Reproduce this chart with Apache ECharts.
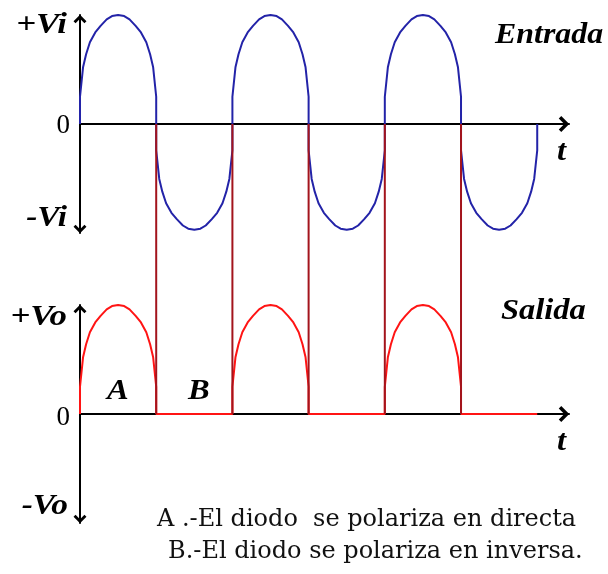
<!DOCTYPE html>
<html>
<head>
<meta charset="utf-8">
<script src="https://cdn.jsdelivr.net/npm/echarts@6/dist/echarts.min.js"></script>
<style>
  html, body { margin: 0; padding: 0; background: #ffffff; }
  #chart { width: 608px; height: 574px; }
</style>
</head>
<body>
<div id="chart"></div>
<script>
// Half-wave rectifier: input voltage (Entrada) and rectified output (Salida).
// Time is measured in half-periods of the input signal.
const halfCycleStarts = [0, 1, 2, 3, 4, 5];
const switchTimes = [1, 2, 3, 4, 5];          // diode switches on/off here

// Shape of one half-cycle: position within the half-period and fraction of the peak
const profileT = [0, 0, 0.04, 0.08, 0.13, 0.2, 0.27, 0.35, 0.42, 0.5, 0.58, 0.65, 0.73, 0.8, 0.87, 0.92, 0.96, 1, 1];
const profileV = [0, 0.25, 0.52, 0.64, 0.75, 0.84, 0.9, 0.96, 0.99, 1, 0.99, 0.96, 0.9, 0.84, 0.75, 0.64, 0.52, 0.25, 0];

const inputPeak = 1;
const inputTrough = -0.97;
const outputPeak = 1;

const inputTickLabels = ['+Vi', '0', '-Vi'];
const outputTickLabels = ['+Vo', '0', '-Vo'];
const legendLines = ['A .-El diodo  se polariza en directa', 'B.-El diodo se polariza en inversa.'];
const regionLabels = ['A', 'B'];

// Build the two waveforms from the half-cycle profile
const inputWave = [];
const outputWave = [];
halfCycleStarts.forEach(function (k) {
  const positive = k % 2 === 0;
  const amp = positive ? inputPeak : inputTrough;
  profileT.forEach(function (t, i) {
    inputWave.push([k + t, profileV[i] * amp]);
  });
  if (positive) {
    profileT.forEach(function (t, i) {
      outputWave.push([k + t, profileV[i] * outputPeak]);
    });
  } else {
    outputWave.push([k, 0], [k + 1, 0]);
  }
});

const xMax = 6.417;
// open arrow head drawn as a thick chevron
const chevron = 'path://M8,0 L16,8 L13.5,10.5 L8,5 L2.5,10.5 L0,8 Z';
const axisLine = {
  show: true,
  onZero: true,
  symbol: ['none', chevron],
  symbolSize: [16, 10.5],
  symbolOffset: [0, -5],
  lineStyle: { color: '#000000', width: 2 }
};
const yAxisLine = Object.assign({}, axisLine, {
  symbol: [chevron, chevron],
  symbolSize: [13, 8.5],
  symbolOffset: [4, -4]
});

const serif = 'Liberation Serif';
function label(text, x, y, align, opts, sx) {
  return {
    type: 'text', x: x, y: y, z: 10, scaleX: sx == null ? 1.12 : sx,
    style: Object.assign({
      text: text, fill: '#000', align: align, verticalAlign: 'middle',
      font: 'italic bold 29px "' + serif + '"'
    }, opts || {})
  };
}
const zeroFont = { font: '27px "' + serif + '"' };
const captionFont = { font: '24px "DejaVu Serif"', fill: '#111' };

const chart = echarts.init(document.getElementById('chart'), null, { renderer: 'canvas' });
chart.setOption({
  animation: false,
  backgroundColor: '#ffffff',
  grid: [
    { left: 80, top: 15, width: 489, height: 218 },
    { left: 80, top: 305, width: 489, height: 218 },
    { left: 80, top: 124, width: 489, height: 290 }
  ],
  xAxis: [
    { gridIndex: 0, type: 'value', min: 0, max: xMax, axisLine: axisLine, axisTick: { show: false }, axisLabel: { show: false }, splitLine: { show: false } },
    { gridIndex: 1, type: 'value', min: 0, max: xMax, axisLine: axisLine, axisTick: { show: false }, axisLabel: { show: false }, splitLine: { show: false } },
    { gridIndex: 2, type: 'value', min: 0, max: xMax, show: false }
  ],
  yAxis: [
    { gridIndex: 0, type: 'value', min: -1, max: 1, axisLine: yAxisLine, axisTick: { show: false }, axisLabel: { show: false }, splitLine: { show: false } },
    { gridIndex: 1, type: 'value', min: -1, max: 1, axisLine: yAxisLine, axisTick: { show: false }, axisLabel: { show: false }, splitLine: { show: false } },
    { gridIndex: 2, type: 'value', min: 0, max: 1, show: false }
  ],
  series: [
    {
      name: 'Entrada', type: 'line', xAxisIndex: 0, yAxisIndex: 0,
      data: inputWave, symbol: 'none', clip: false, z: 3,
      lineStyle: { color: '#2323a8', width: 2 }
    },
    {
      name: 'Salida', type: 'line', xAxisIndex: 1, yAxisIndex: 1,
      data: outputWave, symbol: 'none', clip: false, z: 3,
      lineStyle: { color: '#ff1414', width: 2 }
    },
    {
      name: 'Conmutación', type: 'custom', xAxisIndex: 2, yAxisIndex: 2, z: 4,
      data: switchTimes.map(function (t) { return [t, 0]; }),
      encode: { x: 0, y: 1 },
      renderItem: function (params, api) {
        const a = api.coord([api.value(0), 0]);
        const b = api.coord([api.value(0), 1]);
        return {
          type: 'line',
          shape: { x1: a[0], y1: a[1], x2: b[0], y2: b[1] },
          style: { stroke: '#a3141c', lineWidth: 2 }
        };
      }
    }
  ],
  graphic: [
    label(inputTickLabels[0], 67, 26, 'right', null, 1.2),
    label(inputTickLabels[1], 70, 126, 'right', zeroFont, 1),
    label(inputTickLabels[2], 67, 219, 'right', null, 1.15),
    label('Entrada', 495, 36, 'left', null, 1.1),
    label('t', 557, 153, 'left'),
    label(outputTickLabels[0], 67, 318, 'right', null, 1.2),
    label(outputTickLabels[1], 70, 418, 'right', zeroFont, 1),
    label(outputTickLabels[2], 68, 507, 'right', null, 1.15),
    label('Salida', 501, 312, 'left'),
    label('t', 557, 443, 'left'),
    label(regionLabels[0], 107, 392, 'left'),
    label(regionLabels[1], 188, 392, 'left'),
    label(legendLines[0], 157, 520, 'left', captionFont, 1),
    label(legendLines[1], 168, 552, 'left', captionFont, 1)
  ]
});
</script>
</body>
</html>
